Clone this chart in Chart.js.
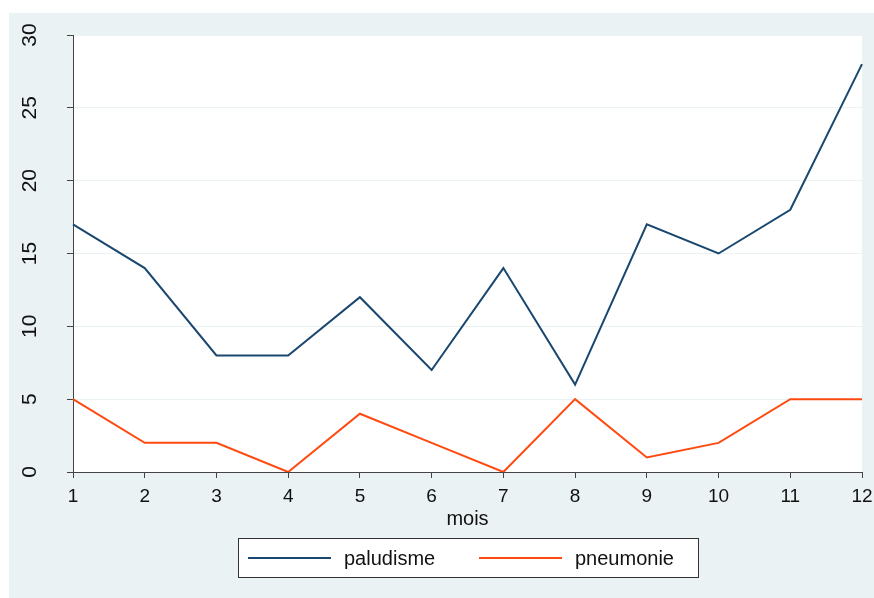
<!DOCTYPE html>
<html>
<head>
<meta charset="utf-8">
<script src="https://cdn.jsdelivr.net/npm/chart.js@4"></script>
<style>
  html, body { margin: 0; padding: 0; background: #fff; }
  #wrap { width: 874px; height: 598px; }
</style>
</head>
<body>
<div id="wrap"><canvas id="chartMois" width="874" height="598"></canvas></div>
<script>
// données
const mois = ['1', '2', '3', '4', '5', '6', '7', '8', '9', '10', '11', '12'];
const paludisme = [17, 14, 8, 8, 12, 7, 14, 6, 17, 15, 18, 28];
const pneumonie = [5, 2, 2, 0, 4, 2, 0, 5, 1, 2, 5, 5];
const yTicks = [0, 5, 10, 15, 20, 25, 30];

const bleuFond = '#EAF2F3';
const couleurPalu = '#1A476F';
const couleurPneu = '#FF4A0F';
const police = '"Liberation Sans", Arial, sans-serif';

// fond style Stata + légende encadrée
const fondStata = {
    id: 'fondStata',
    beforeDraw(chart) {
        const { ctx, chartArea: a } = chart;
        ctx.save();
        ctx.fillStyle = '#fff';
        ctx.fillRect(0, 0, chart.width, chart.height);
        ctx.fillStyle = bleuFond;
        ctx.fillRect(9, 13, chart.width - 9, chart.height - 13);
        ctx.fillStyle = '#fff';
        ctx.fillRect(a.left, a.top, a.right - a.left, a.bottom - a.top);
        ctx.restore();
    },
    afterDraw(chart) {
        const ctx = chart.ctx;
        ctx.save();
        ctx.fillStyle = '#fff';
        ctx.fillRect(238, 538, 460, 39);
        ctx.strokeStyle = '#333';
        ctx.lineWidth = 1;
        ctx.strokeRect(238.5, 538.5, 460, 39);
        const items = [
            { label: 'paludisme', color: couleurPalu, x: 248 },
            { label: 'pneumonie', color: couleurPneu, x: 479 }
        ];
        ctx.font = '20px ' + police;
        ctx.textBaseline = 'middle';
        items.forEach(it => {
            ctx.strokeStyle = it.color;
            ctx.lineWidth = 2;
            ctx.beginPath();
            ctx.moveTo(it.x, 558);
            ctx.lineTo(it.x + 83, 558);
            ctx.stroke();
            ctx.fillStyle = '#111';
            ctx.fillText(it.label, it.x + 96, 559);
        });
        ctx.restore();
    }
};

const ctx = document.getElementById('chartMois').getContext('2d');
new Chart(ctx, {
    type: 'line',
    data: {
        labels: mois,
        datasets: [
            { label: 'paludisme', data: paludisme, borderColor: couleurPalu, borderWidth: 2, pointRadius: 0, tension: 0, fill: false },
            { label: 'pneumonie', data: pneumonie, borderColor: couleurPneu, borderWidth: 2, pointRadius: 0, tension: 0, fill: false }
        ]
    },
    options: {
        responsive: false,
        animation: false,
        layout: { padding: { left: 9, top: 35, right: 12, bottom: 67 } },
        plugins: {
            legend: { display: false },
            tooltip: { enabled: false }
        },
        scales: {
            x: {
                offset: false,
                afterFit: s => { s.height = 59; s.paddingLeft = 0; s.paddingRight = 0; },
                grid: { drawOnChartArea: false, drawTicks: true, tickLength: 6, tickColor: '#444' },
                border: { color: '#444', width: 1 },
                ticks: { color: '#111', font: { family: police, size: 19 }, padding: 7, maxRotation: 0, autoSkip: false },
                title: { display: true, text: 'mois', color: '#111', font: { family: police, size: 20 }, padding: { top: 0, bottom: 0 } }
            },
            y: {
                min: 0,
                max: 30,
                afterBuildTicks: s => { s.ticks = yTicks.map(v => ({ value: v })); },
                afterFit: s => { s.width = 64; s.paddingTop = 0; s.paddingBottom = 0; },
                grid: { color: bleuFond, lineWidth: 1, drawTicks: true, tickLength: 6, tickColor: '#444' },
                border: { color: '#444', width: 1 },
                ticks: { color: '#111', font: { family: police, size: 21 }, minRotation: 90, maxRotation: 90, crossAlign: 'center', padding: 25 }
            }
        }
    },
    plugins: [fondStata]
});
</script>
</body>
</html>
